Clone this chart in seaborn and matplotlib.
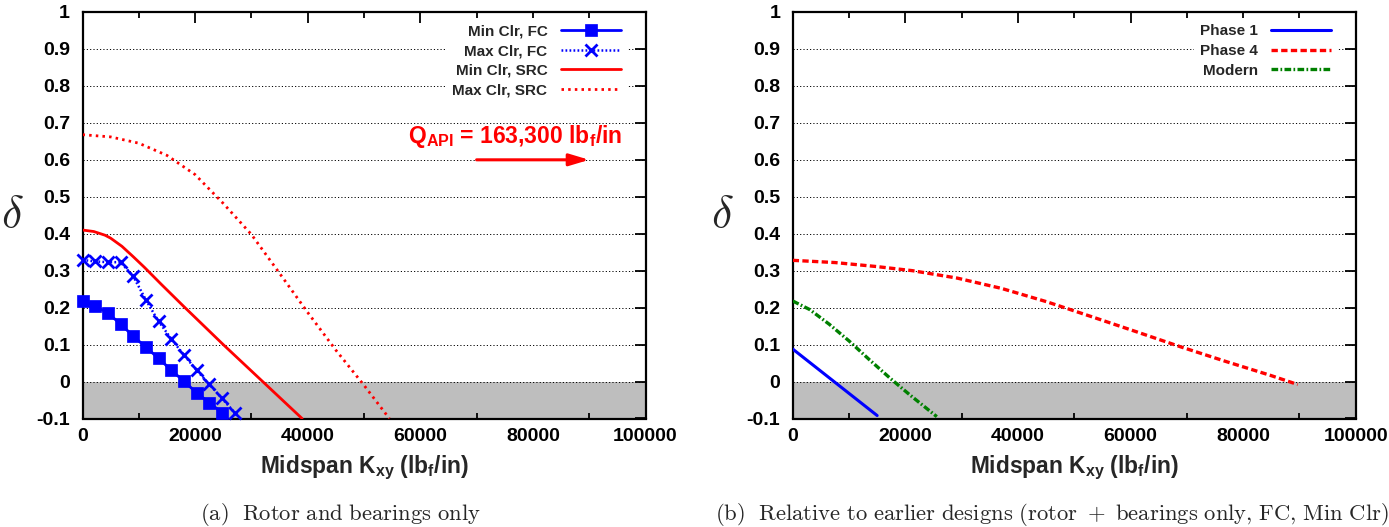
import numpy as np
import pandas as pd
import matplotlib
matplotlib.use("Agg")
import matplotlib.pyplot as plt
from matplotlib.ticker import MultipleLocator, FixedLocator
import seaborn as sns

# ---------------- data ----------------
# (a) Rotor and bearings only
fc_min_x = [0, 2250, 4500, 6750, 9000, 11250, 13500, 15750, 18000, 20250, 22500, 24750]
fc_min_y = [0.219, 0.205, 0.185, 0.156, 0.123, 0.093, 0.063, 0.031, 0.001, -0.030, -0.057, -0.084]

fc_max_x = [0, 2250, 4500, 6750, 9000, 11250, 13500, 15750, 18000, 20250, 22500, 24750, 27000]
fc_max_y = [0.329, 0.325, 0.323, 0.323, 0.285, 0.221, 0.163, 0.116, 0.072, 0.031, -0.007, -0.045, -0.084]

src_min_x = [0, 2000, 4000, 5000, 7000, 9000, 11000, 14000, 18000, 25000, 32000, 39000]
src_min_y = [0.410, 0.406, 0.396, 0.388, 0.366, 0.338, 0.309, 0.263, 0.203, 0.100, 0.000, -0.100]

src_max_x = [0, 5000, 10000, 15000, 20000, 25000, 30000, 35000, 40000, 45000, 50000, 54500]
src_max_y = [0.668, 0.662, 0.645, 0.612, 0.560, 0.482, 0.398, 0.293, 0.187, 0.085, -0.010, -0.100]

# (b) Relative to earlier designs
ph1_x = [0, 7500, 15000]
ph1_y = [0.088, -0.002, -0.092]

ph4_x = [0, 7500, 15000, 21270, 29200, 37100, 45100, 53000, 61000, 68900, 76800, 84800, 89700]
ph4_y = [0.328, 0.322, 0.311, 0.300, 0.280, 0.252, 0.216, 0.176, 0.135, 0.094, 0.055, 0.017, -0.008]

mod_x = [0, 3000, 6500, 10000, 13700, 17300, 20800, 25600]
mod_y = [0.218, 0.195, 0.155, 0.110, 0.058, 0.009, -0.036, -0.095]

x_ticks = [0, 20000, 40000, 60000, 80000, 100000]
x_tick_labels = ["0", "20000", "40000", "60000", "80000", "100000"]
y_ticks = [-0.1, 0, 0.1, 0.2, 0.3, 0.4, 0.5, 0.6, 0.7, 0.8, 0.9, 1.0]
y_tick_labels = ["-0.1", "0", "0.1", "0.2", "0.3", "0.4", "0.5", "0.6", "0.7", "0.8", "0.9", "1"]

labels_a = ["Min Clr, FC", "Max Clr, FC", "Min Clr, SRC", "Max Clr, SRC"]
labels_b = ["Phase 1", "Phase 4", "Modern"]
xlabel = r"Midspan K$_{\mathbf{xy}}$ (lb$_{\mathbf{f}}$/in)"
ylabel = r"$\delta$"
caption_a = r"$\mathrm{(a)\ \ Rotor\ and\ bearings\ only}$"
caption_b = r"$\mathrm{(b)\ \ Relative\ to\ earlier\ designs\ (rotor\ +\ bearings\ only{,}\ FC{,}\ Min\ Clr)}$"
annot_text = r"Q$_{\mathbf{API}}$ = 163,300 lb$_{\mathbf{f}}$/in"
annot_text_xy = (57800, 0.645)
annot_arrow_from = (70000, 0.6)
annot_arrow_to = (90000, 0.6)

# ---------------- style ----------------
sns.set_theme(style="white")
plt.rcParams["font.family"] = ["Liberation Sans", "DejaVu Sans"]
plt.rcParams["font.weight"] = "bold"
plt.rcParams["mathtext.fontset"] = "custom"
for k in ["rm", "it", "bf", "sf"]:
    plt.rcParams["mathtext." + k] = "Liberation Sans:bold"

BLUE = "#0000ff"
RED = "#ff0000"
GREEN = "#008000"
GRAY = "#bebebe"

W, H = 1389, 527
fig = plt.figure(figsize=(W / 100, H / 100), dpi=100)
ax_w = 563 / W
ax_h = 406.5 / H
ax_b = 1 - 418.5 / H
ax1 = fig.add_axes([82.5 / W, ax_b, ax_w, ax_h])
ax2 = fig.add_axes([792.7 / W, ax_b, ax_w, ax_h])


def style_axes(ax):
    ax.set_xlim(0, 100000)
    ax.set_ylim(-0.1, 1.0)
    ax.axhspan(-0.1, 0, color=GRAY, zorder=0.3, lw=0)
    ax.set_axisbelow(True)
    ax.xaxis.set_major_locator(FixedLocator(x_ticks))
    ax.set_xticklabels(x_tick_labels)
    ax.xaxis.set_minor_locator(MultipleLocator(10000))
    ax.yaxis.set_major_locator(FixedLocator(y_ticks))
    ax.set_yticklabels(y_tick_labels)
    ax.tick_params(axis="both", which="major", direction="in", top=True, right=True,
                   length=8, width=1.3, color="black", labelsize=14, labelcolor="black")
    ax.tick_params(axis="x", which="major", pad=7)
    ax.tick_params(axis="y", which="major", pad=9)
    ax.tick_params(axis="x", which="minor", direction="in", top=True, bottom=True,
                   length=4, width=1.3, color="black")
    for lab in ax.get_xticklabels() + ax.get_yticklabels():
        lab.set_fontweight("bold")
    ax.yaxis.grid(True, which="major", color="black", lw=0.7, linestyle=(0, (1.2, 2.2)))
    ax.xaxis.grid(False)
    for sp in ax.spines.values():
        sp.set_linewidth(1.6)
        sp.set_color("black")
    ax.set_xlabel(xlabel, fontsize=16.4, fontweight="bold", labelpad=6)
    ax.set_ylabel(ylabel, fontsize=33, rotation=0, math_fontfamily="cm",
                  fontweight="normal", ha="center", va="center")
    ax.yaxis.set_label_coords(-0.125, 0.5)


style_axes(ax1)
style_axes(ax2)

# ---------------- panel (a) ----------------
sns.lineplot(x=fc_min_x, y=fc_min_y, ax=ax1, color=BLUE, lw=2, marker="s",
             markersize=8.5, markeredgecolor=BLUE, markeredgewidth=0.5,
             label=labels_a[0], zorder=5, clip_on=False)
sns.lineplot(x=fc_max_x, y=fc_max_y, ax=ax1, color=BLUE, lw=1.8, linestyle=(0, (0.7, 0.9)),
             marker="x", markersize=9, markeredgecolor=BLUE, markeredgewidth=2,
             label=labels_a[1], zorder=5, clip_on=False)
sns.lineplot(x=src_min_x, y=src_min_y, ax=ax1, color=RED, lw=2, label=labels_a[2], zorder=4)
sns.lineplot(x=src_max_x, y=src_max_y, ax=ax1, color=RED, lw=2.0, linestyle=(0, (0.9, 1.5)),
             label=labels_a[3], zorder=4)

ax1.text(annot_text_xy[0], annot_text_xy[1], annot_text, color=RED, fontsize=16.5,
         fontweight="bold", ha="left", va="baseline", zorder=6)
ax1.annotate("", xy=annot_arrow_to, xytext=annot_arrow_from,
             arrowprops=dict(arrowstyle="-|>,head_length=0.6,head_width=0.18",
                             color=RED, lw=2.2, mutation_scale=20, shrinkA=0, shrinkB=0),
             zorder=6)

leg1 = ax1.legend(loc="upper right", bbox_to_anchor=(0.967, 0.985), borderaxespad=0,
                  borderpad=0.4, markerfirst=False, handlelength=3.9, handletextpad=0.9,
                  labelspacing=0.38, fontsize=11, frameon=True, fancybox=False,
                  framealpha=1, edgecolor="none", facecolor="white", numpoints=1)
for t in leg1.get_texts():
    t.set_fontweight("bold")

# ---------------- panel (b) ----------------
sns.lineplot(x=ph1_x, y=ph1_y, ax=ax2, color=BLUE, lw=2.2, label=labels_b[0], zorder=4)
sns.lineplot(x=ph4_x, y=ph4_y, ax=ax2, color=RED, lw=2.4, linestyle=(0, (1.9, 1.0)),
             label=labels_b[1], zorder=4)
sns.lineplot(x=mod_x, y=mod_y, ax=ax2, color=GREEN, lw=2.4, linestyle=(0, (2.0, 0.7, 0.5, 0.7)),
             label=labels_b[2], zorder=4)

leg2 = ax2.legend(loc="upper right", bbox_to_anchor=(0.967, 0.985), borderaxespad=0,
                  borderpad=0.4, markerfirst=False, handlelength=3.9, handletextpad=0.9,
                  labelspacing=0.38, fontsize=11, frameon=True, fancybox=False,
                  framealpha=1, edgecolor="none", facecolor="white")
for t in leg2.get_texts():
    t.set_fontweight("bold")

for ax in (ax1, ax2):
    ax.set_xlim(0, 100000)
    ax.set_ylim(-0.1, 1.0)

# ---------------- captions ----------------
fig.text(340 / W, 1 - 515 / H, caption_a, ha="center", va="center", fontsize=16.3,
         math_fontfamily="cm")
fig.text(1052 / W, 1 - 515 / H, caption_b, ha="center", va="center", fontsize=16.3,
         math_fontfamily="cm")

fig.savefig("out.png", dpi=100)
